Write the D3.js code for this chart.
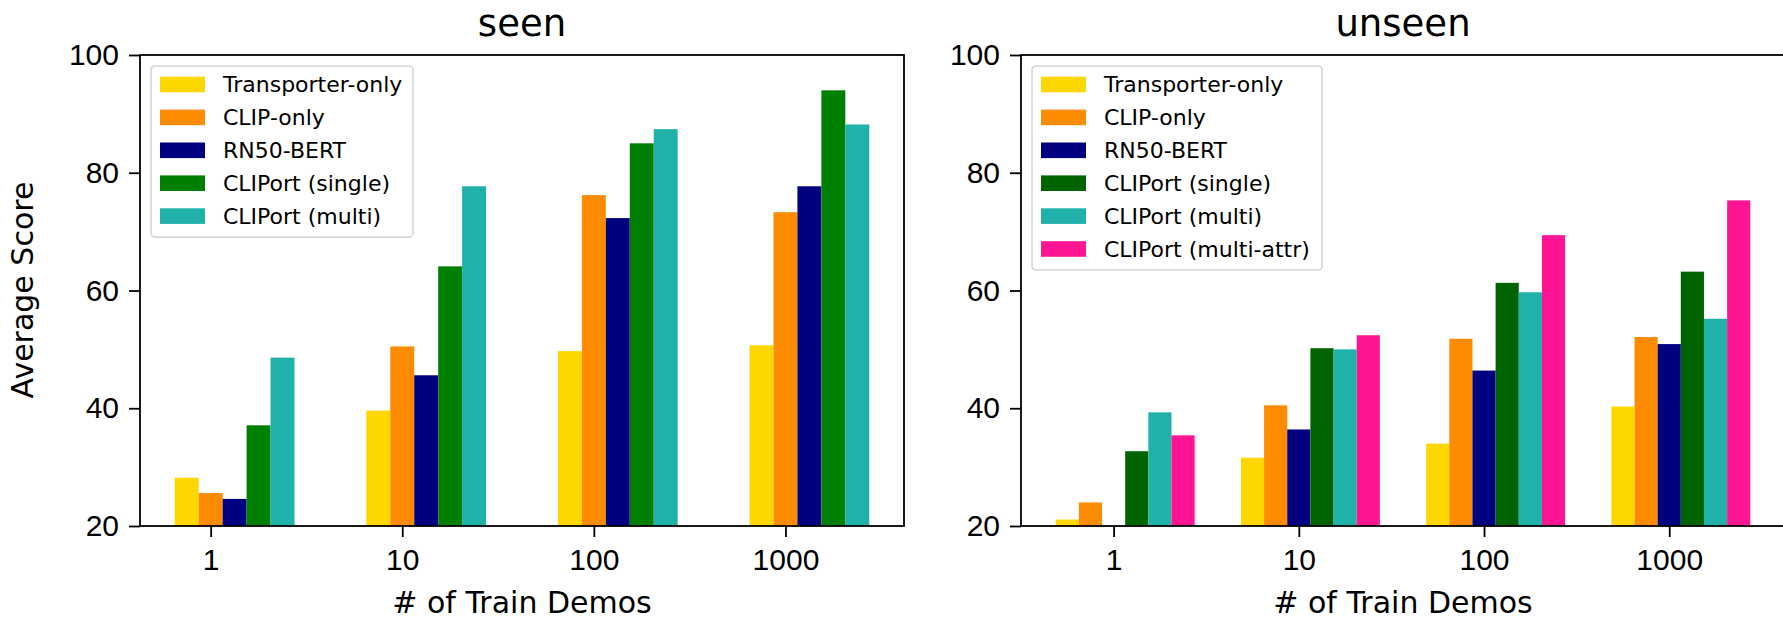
<!DOCTYPE html>
<html>
<head>
<meta charset="utf-8">
<script src="https://cdn.jsdelivr.net/npm/d3@7"></script>
<style>
  body { margin: 0; background: #fff; }
  svg { display: block; font-family: "DejaVu Sans", sans-serif; }
</style>
</head>
<body>
<div id="chart"></div>
<script>
var width = 1783,
    height = 621;

// data
var demos = ["1", "10", "100", "1000"];
var yTicks = [20, 40, 60, 80, 100];

var seenMethods = ["Transporter-only", "CLIP-only", "RN50-BERT", "CLIPort (single)", "CLIPort (multi)"];
var seenColors = ["#FFD700", "#FF8C00", "#000080", "#008000", "#20B2AA"];
var seenScores = [
    [28.2, 39.6, 49.7, 50.7],
    [25.6, 50.5, 76.2, 73.3],
    [24.6, 45.6, 72.3, 77.7],
    [37.1, 64.1, 85.0, 94.0],
    [48.6, 77.7, 87.4, 88.2]
];

var unseenMethods = ["Transporter-only", "CLIP-only", "RN50-BERT", "CLIPort (single)", "CLIPort (multi)", "CLIPort (multi-attr)"];
var unseenColors = ["#FFD700", "#FF8C00", "#000080", "#006400", "#20B2AA", "#FF1493"];
var unseenScores = [
    [21.1, 31.6, 34.0, 40.3],
    [24.0, 40.5, 51.8, 52.1],
    [19.0, 36.4, 46.4, 50.9],
    [32.7, 50.2, 61.3, 63.2],
    [39.3, 50.0, 59.7, 55.2],
    [35.4, 52.4, 69.4, 75.3]
];

var svg = d3.select("#chart").append("svg")
    .attr("width", width)
    .attr("height", height);

var barW = 0.125;

function drawPanel(opts) {
    var n = opts.methods.length;
    var lo = -(opts.tickIdx + 0.5) * barW,
        hi = (demos.length - 1) + (n - opts.tickIdx - 0.5) * barW;
    var pad = 0.05 * (hi - lo);

    var x = d3.scaleLinear()
        .domain([lo - pad, hi + pad])
        .range([opts.left, opts.left + 764]);
    var y = d3.scaleLinear()
        .domain([20, 100])
        .range([526, 55]);

    var g = svg.append("g");

    g.append("clipPath")
        .attr("id", opts.id + "-clip")
        .append("rect")
        .attr("x", x.range()[0])
        .attr("y", y.range()[1])
        .attr("width", x.range()[1] - x.range()[0])
        .attr("height", y.range()[0] - y.range()[1]);

    var bars = g.append("g").attr("clip-path", "url(#" + opts.id + "-clip)");
    opts.methods.forEach(function(m, i) {
        bars.selectAll(".bar" + i)
            .data(opts.scores[i])
            .enter()
            .append("rect")
            .attr("x", function(d, j) { return x(j + (i - opts.tickIdx - 0.5) * barW); })
            .attr("width", x(barW) - x(0))
            .attr("y", function(d) { return y(d); })
            .attr("height", function(d) { return Math.max(0, y(0) - y(d)); })
            .attr("fill", opts.colors[i]);
    });

    // axes
    var yAxis = d3.axisLeft(y).tickValues(yTicks).tickSize(11).tickPadding(10);
    var gy = g.append("g")
        .attr("transform", "translate(" + x.range()[0] + ",0)")
        .call(yAxis);

    var xAxis = d3.axisBottom(x)
        .tickValues(d3.range(demos.length))
        .tickFormat(function(d) { return demos[d]; })
        .tickSize(11).tickPadding(12);
    var gx = g.append("g")
        .attr("transform", "translate(0," + y.range()[0] + ")")
        .call(xAxis);

    [gx, gy].forEach(function(a) {
        a.select(".domain").remove();
        a.selectAll("line").attr("stroke", "#000").attr("stroke-width", 1.8);
        a.selectAll("text")
            .attr("fill", "#000")
            .style("font-size", "30px");
    });

    // frame
    g.append("rect")
        .attr("x", x.range()[0])
        .attr("y", y.range()[1])
        .attr("width", x.range()[1] - x.range()[0])
        .attr("height", y.range()[0] - y.range()[1])
        .attr("fill", "none")
        .attr("stroke", "#000")
        .attr("stroke-width", 1.8);

    var cx = (x.range()[0] + x.range()[1]) / 2;

    g.append("text")
        .attr("x", cx)
        .attr("y", 36)
        .attr("text-anchor", "middle")
        .style("font-size", "37px")
        .text(opts.title);

    g.append("text")
        .attr("x", cx)
        .attr("y", 613)
        .attr("text-anchor", "middle")
        .style("font-size", "30px")
        .text("# of Train Demos");

    // legend
    var rowH = 32.9;
    var leg = g.append("g")
        .attr("transform", "translate(" + (x.range()[0] + 11) + ",66)");
    leg.append("rect")
        .attr("width", opts.legendW)
        .attr("height", 21 + 18.5 + (n - 1) * rowH)
        .attr("rx", 4)
        .attr("fill", "#fff")
        .attr("fill-opacity", 0.8)
        .attr("stroke", "#d6d6d6")
        .attr("stroke-width", 1.6);
    var rows = leg.selectAll(".row")
        .data(opts.methods)
        .enter()
        .append("g")
        .attr("transform", function(d, i) { return "translate(0," + (18.5 + i * rowH) + ")"; });
    rows.append("rect")
        .attr("x", 9)
        .attr("y", -7.8)
        .attr("width", 45)
        .attr("height", 15.6)
        .attr("fill", function(d, i) { return opts.colors[i]; });
    rows.append("text")
        .attr("x", 72)
        .attr("dy", "0.36em")
        .style("font-size", "22px")
        .text(function(d) { return d; });
}

drawPanel({ id: "seen", title: "seen", left: 140, tickIdx: 1, legendW: 262,
    methods: seenMethods, colors: seenColors, scores: seenScores });
drawPanel({ id: "unseen", title: "unseen", left: 1021, tickIdx: 2, legendW: 290,
    methods: unseenMethods, colors: unseenColors, scores: unseenScores });

svg.append("text")
    .attr("transform", "translate(33,290) rotate(-90)")
    .attr("text-anchor", "middle")
    .style("font-size", "30px")
    .text("Average Score");
</script>
</body>
</html>
